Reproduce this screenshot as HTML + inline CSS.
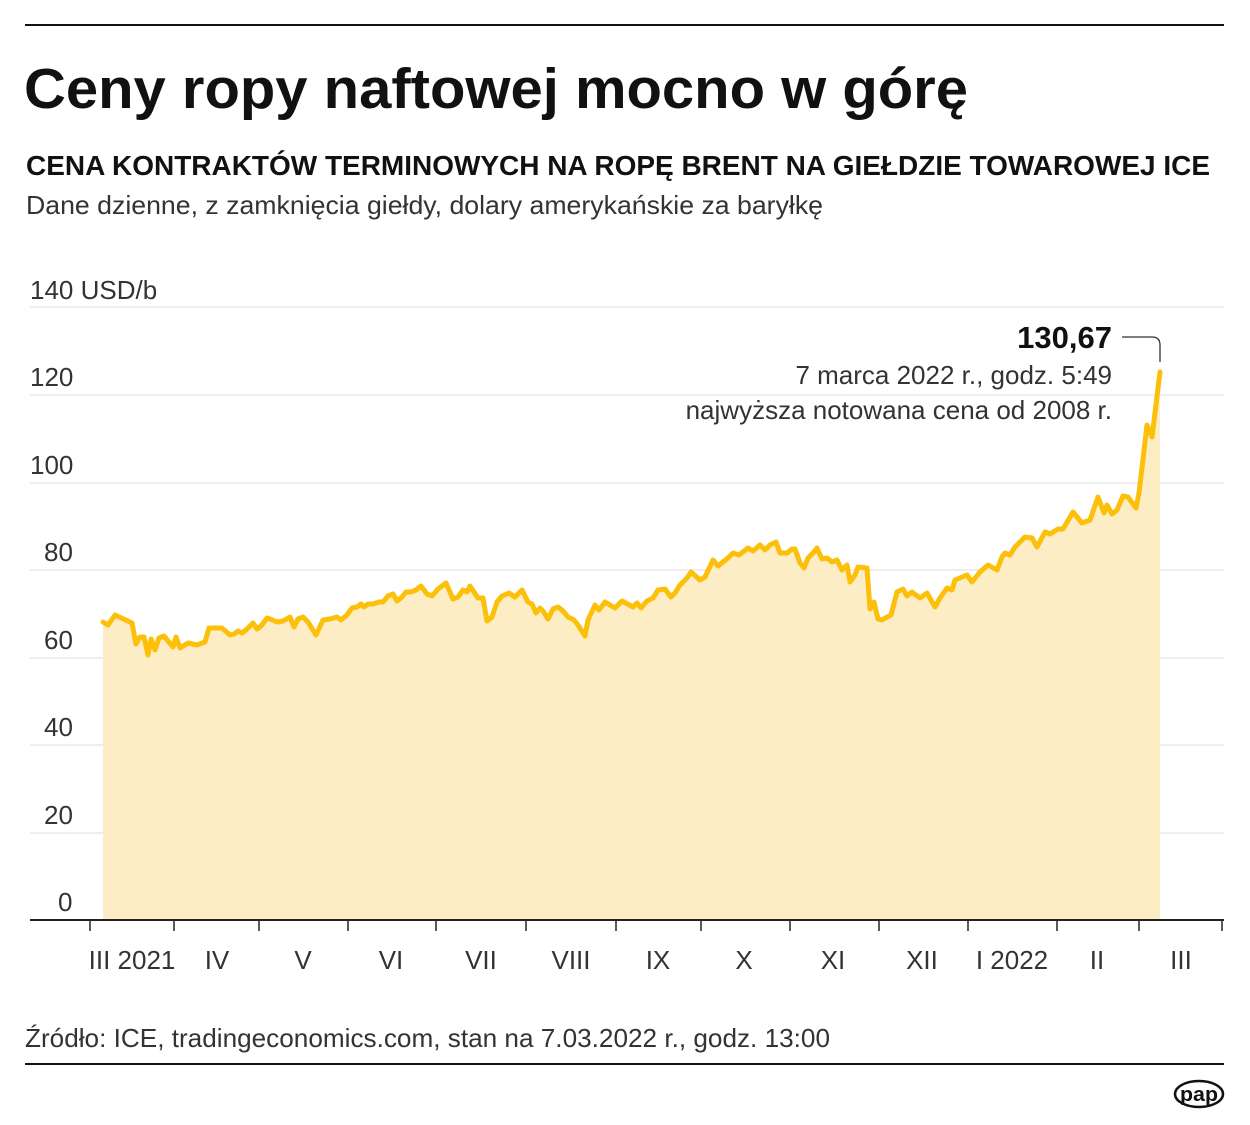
<!DOCTYPE html>
<html><head><meta charset="utf-8"><style>
html,body{margin:0;padding:0;background:#fff}
svg{display:block}
text{font-family:"Liberation Sans",sans-serif}
</style></head><body>
<svg width="1250" height="1125" viewBox="0 0 1250 1125" xmlns="http://www.w3.org/2000/svg">
<rect x="25" y="24" width="1199" height="2" fill="#111"/>
<text x="24" y="108" font-size="57" font-weight="bold" fill="#111" textLength="944" lengthAdjust="spacingAndGlyphs">Ceny ropy naftowej mocno w górę</text>
<text x="26" y="175" font-size="28" font-weight="bold" fill="#111" textLength="1184" lengthAdjust="spacingAndGlyphs">CENA KONTRAKTÓW TERMINOWYCH NA ROPĘ BRENT NA GIEŁDZIE TOWAROWEJ ICE</text>
<text x="26" y="214" font-size="26" fill="#333" textLength="797" lengthAdjust="spacingAndGlyphs">Dane dzienne, z zamknięcia giełdy, dolary amerykańskie za baryłkę</text>
<g stroke="#e8e8e8" stroke-width="1.5">
<line x1="30" x2="1224" y1="307" y2="307"/><line x1="30" x2="1224" y1="395" y2="395"/>
<line x1="30" x2="1224" y1="483" y2="483"/><line x1="30" x2="1224" y1="570" y2="570"/>
<line x1="30" x2="1224" y1="658" y2="658"/><line x1="30" x2="1224" y1="745" y2="745"/>
<line x1="30" x2="1224" y1="833" y2="833"/>
</g>
<g font-size="26" fill="#333">
<text x="30" y="299">140 USD/b</text><text x="30" y="386">120</text><text x="30" y="474">100</text>
<text x="44" y="561">80</text><text x="44" y="649">60</text><text x="44" y="736">40</text>
<text x="44" y="824">20</text><text x="58" y="911">0</text>
</g>
<polygon fill="#fdedc4" points="103,920 103,622 108,625 115,615 132,623 136,644 140,637 144,637 148,655 151,639 155,650 159,638 164,636 173,647 176,637 180,648 188,643 197,645 205,642 209,628 215,628 222,628 230,635 234,634 238,631 242,633 247,629 253,623 257,629 261,626 267,618 270,619 277,622 283,621 290,617 294,627 298,619 303,617 308,622 316,635 323,620 330,619 337,617 341,620 347,615 352,608 357,607 361,604 364,607 368,604 373,604 379,602 383,602 388,596 393,594 397,601 402,597 406,592 411,592 416,590 421,586 427,594 432,596 438,589 446,583 453,599 458,597 463,590 467,592 470,586 478,598 483,598 487,621 492,617 497,602 502,596 509,593 515,597 522,590 528,602 532,604 536,613 540,608 543,611 548,619 553,609 558,607 563,611 568,617 574,620 578,625 585,636 588,620 595,605 599,610 605,602 615,608 622,601 633,607 637,603 641,608 647,601 653,598 658,590 665,589 671,597 675,593 680,585 687,578 691,572 700,580 705,577 713,560 718,566 723,562 728,558 733,553 739,555 748,548 753,551 760,545 765,550 770,545 776,542 780,553 787,553 792,549 795,549 800,563 804,568 808,558 813,553 817,548 822,559 827,558 832,562 837,560 842,570 847,565 850,582 855,575 858,567 867,568 870,609 874,602 878,619 882,620 887,617 891,615 897,592 903,589 907,596 912,592 920,598 927,593 935,607 940,598 947,588 952,590 955,580 967,575 972,582 980,572 988,565 997,570 1002,557 1005,553 1010,555 1015,547 1025,537 1032,538 1037,547 1045,532 1050,534 1058,529 1063,529 1073,512 1082,523 1090,520 1098,497 1104,513 1107,505 1112,514 1117,510 1123,496 1128,497 1136,508 1139,493 1147,425 1152,437 1160,372 1160,920"/>
<polyline fill="none" stroke="#fcc00a" stroke-width="5" stroke-linejoin="round" stroke-linecap="round" points="103,622 108,625 115,615 132,623 136,644 140,637 144,637 148,655 151,639 155,650 159,638 164,636 173,647 176,637 180,648 188,643 197,645 205,642 209,628 215,628 222,628 230,635 234,634 238,631 242,633 247,629 253,623 257,629 261,626 267,618 270,619 277,622 283,621 290,617 294,627 298,619 303,617 308,622 316,635 323,620 330,619 337,617 341,620 347,615 352,608 357,607 361,604 364,607 368,604 373,604 379,602 383,602 388,596 393,594 397,601 402,597 406,592 411,592 416,590 421,586 427,594 432,596 438,589 446,583 453,599 458,597 463,590 467,592 470,586 478,598 483,598 487,621 492,617 497,602 502,596 509,593 515,597 522,590 528,602 532,604 536,613 540,608 543,611 548,619 553,609 558,607 563,611 568,617 574,620 578,625 585,636 588,620 595,605 599,610 605,602 615,608 622,601 633,607 637,603 641,608 647,601 653,598 658,590 665,589 671,597 675,593 680,585 687,578 691,572 700,580 705,577 713,560 718,566 723,562 728,558 733,553 739,555 748,548 753,551 760,545 765,550 770,545 776,542 780,553 787,553 792,549 795,549 800,563 804,568 808,558 813,553 817,548 822,559 827,558 832,562 837,560 842,570 847,565 850,582 855,575 858,567 867,568 870,609 874,602 878,619 882,620 887,617 891,615 897,592 903,589 907,596 912,592 920,598 927,593 935,607 940,598 947,588 952,590 955,580 967,575 972,582 980,572 988,565 997,570 1002,557 1005,553 1010,555 1015,547 1025,537 1032,538 1037,547 1045,532 1050,534 1058,529 1063,529 1073,512 1082,523 1090,520 1098,497 1104,513 1107,505 1112,514 1117,510 1123,496 1128,497 1136,508 1139,493 1147,425 1152,437 1160,372"/>
<line x1="30" x2="1224" y1="920" y2="920" stroke="#222" stroke-width="2"/>
<g stroke="#222" stroke-width="1.5">
<line x1="90" x2="90" y1="920" y2="931"/><line x1="174" x2="174" y1="920" y2="931"/>
<line x1="259" x2="259" y1="920" y2="931"/><line x1="348" x2="348" y1="920" y2="931"/>
<line x1="436" x2="436" y1="920" y2="931"/><line x1="526" x2="526" y1="920" y2="931"/>
<line x1="616" x2="616" y1="920" y2="931"/><line x1="701" x2="701" y1="920" y2="931"/>
<line x1="790" x2="790" y1="920" y2="931"/><line x1="879" x2="879" y1="920" y2="931"/>
<line x1="968" x2="968" y1="920" y2="931"/><line x1="1057" x2="1057" y1="920" y2="931"/>
<line x1="1139" x2="1139" y1="920" y2="931"/><line x1="1222" x2="1222" y1="920" y2="931"/>
</g>
<g font-size="26" fill="#333" text-anchor="middle">
<text x="132" y="969">III 2021</text><text x="217" y="969">IV</text><text x="303" y="969">V</text>
<text x="391" y="969">VI</text><text x="481" y="969">VII</text><text x="571" y="969">VIII</text>
<text x="658" y="969">IX</text><text x="744" y="969">X</text><text x="833" y="969">XI</text>
<text x="922" y="969">XII</text><text x="1012" y="969">I 2022</text><text x="1097" y="969">II</text>
<text x="1181" y="969">III</text>
</g>
<g text-anchor="end">
<text x="1112" y="348" font-size="31" font-weight="bold" fill="#111">130,67</text>
<text x="1112" y="384" font-size="26" fill="#333">7 marca 2022 r., godz. 5:49</text>
<text x="1112" y="419" font-size="26" fill="#333">najwyższa notowana cena od 2008 r.</text>
</g>
<path d="M1122,337 H1152 Q1160,337 1160,345 V362" fill="none" stroke="#333" stroke-width="1.3"/>
<text x="25" y="1047" font-size="26" fill="#333" textLength="805" lengthAdjust="spacingAndGlyphs">Źródło: ICE, tradingeconomics.com, stan na 7.03.2022 r., godz. 13:00</text>
<rect x="25" y="1063" width="1199" height="2" fill="#111"/>
<ellipse cx="1199" cy="1094" rx="24" ry="13" fill="#fff" stroke="#111" stroke-width="2.5"/>
<text x="1199" y="1101" font-size="20" font-weight="bold" fill="#111" text-anchor="middle" textLength="38" lengthAdjust="spacingAndGlyphs">pap</text>
</svg>
</body></html>
